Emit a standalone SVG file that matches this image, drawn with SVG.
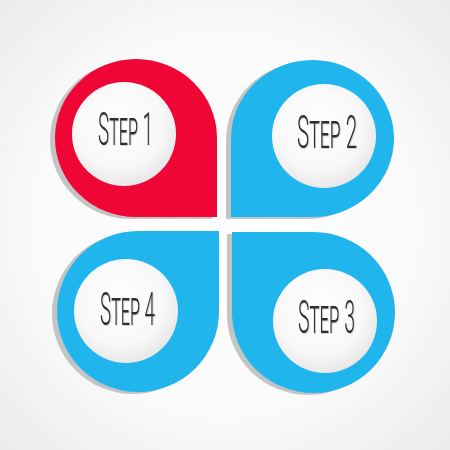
<svg xmlns="http://www.w3.org/2000/svg" width="450" height="450" viewBox="0 0 450 450">
  <defs>
    <radialGradient id="bg" cx="50%" cy="50%" r="70%">
      <stop offset="0" stop-color="#ffffff"/>
      <stop offset="0.6" stop-color="#fafafa"/>
      <stop offset="1" stop-color="#ebebeb"/>
    </radialGradient>
    <radialGradient id="disc" cx="45%" cy="40%" r="60%">
      <stop offset="0" stop-color="#ffffff"/>
      <stop offset="0.7" stop-color="#f8f8f8"/>
      <stop offset="1" stop-color="#e8e8e8"/>
    </radialGradient>
    <filter id="txtsh" x="-10%" y="-10%" width="130%" height="130%">
      <feDropShadow dx="0.8" dy="0.8" stdDeviation="0.5" flood-color="#000" flood-opacity="0.18"/>
    </filter>
  </defs>
  <style>
    .red { fill: #ef0634; }
    .blue { fill: #21b5ee; }
    .sh { fill: #c4c4c4; }
    .disc { fill: url(#disc); }
    .lbl { font-family: Roboto, "Liberation Sans", sans-serif; font-weight: 300; font-size: 47px; font-variant: small-caps; fill: #2e2e2e; filter: url(#txtsh); }
  </style>
  <rect width="450" height="450" fill="url(#bg)"/>

  <g id="step1">
    <path class="sh" transform="translate(-5,2)" d="M217,217 L136,217 A81,79 0 1 1 217,138 Z"/>
    <path class="red" d="M217,217 L136,217 A81,79 0 1 1 217,138 Z"/>
    <circle class="disc" cx="124" cy="134" r="52"/>
    <text class="lbl" x="98" y="145" textLength="55" lengthAdjust="spacingAndGlyphs">Step 1</text>
  </g>

  <g id="step2">
    <path class="sh" transform="translate(-5,2)" d="M231,217 L231,138.5 A81.5,78.5 0 1 1 312.5,217 Z"/>
    <path class="blue" d="M231,217 L231,138.5 A81.5,78.5 0 1 1 312.5,217 Z"/>
    <circle class="disc" cx="324" cy="136" r="52"/>
    <text class="lbl" x="297" y="148" textLength="60" lengthAdjust="spacingAndGlyphs">Step 2</text>
  </g>

  <g id="step3">
    <path class="sh" transform="translate(-5,2)" d="M232,232 L313.5,232 A81.5,80.5 0 1 1 232,312.5 Z"/>
    <path class="blue" d="M232,232 L313.5,232 A81.5,80.5 0 1 1 232,312.5 Z"/>
    <circle class="disc" cx="325" cy="321" r="52"/>
    <text class="lbl" x="298" y="333" textLength="57" lengthAdjust="spacingAndGlyphs">Step 3</text>
  </g>

  <g id="step4">
    <path class="sh" transform="translate(-5,2)" d="M219,231 L219,311.5 A81,80.5 0 1 1 138,231 Z"/>
    <path class="blue" d="M219,231 L219,311.5 A81,80.5 0 1 1 138,231 Z"/>
    <circle class="disc" cx="126" cy="311" r="52"/>
    <text class="lbl" x="100" y="325" textLength="55" lengthAdjust="spacingAndGlyphs">Step 4</text>
  </g>
</svg>
